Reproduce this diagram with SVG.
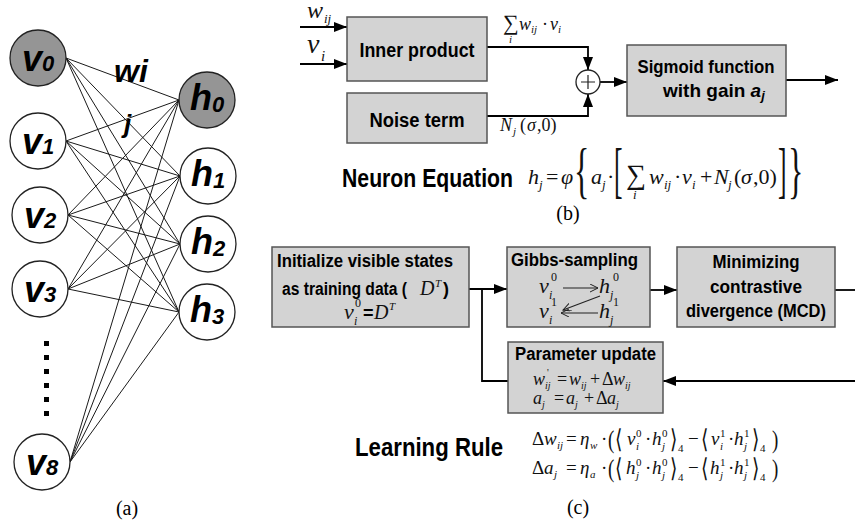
<svg xmlns="http://www.w3.org/2000/svg" width="855" height="527" viewBox="0 0 855 527">
<style>
.box{fill:#d3d3d3;stroke:#555;stroke-width:1.5}
.node{fill:#fff;stroke:#222;stroke-width:1.3}
.shaded{fill:#959595}
.edge{stroke:#1a1a1a;stroke-width:1;fill:none}
.conn{stroke:#000;stroke-width:1.8;fill:none}
.thin{stroke:#222;stroke-width:1.1;fill:none}
.b{font-family:"Liberation Sans",Arial,sans-serif;font-weight:bold;fill:#000}
.bi{font-family:"Liberation Sans",Arial,sans-serif;font-weight:bold;font-style:italic;fill:#000}
.m{font-family:"Liberation Serif","DejaVu Serif",serif;font-style:italic;fill:#111}
.r{font-family:"Liberation Serif","DejaVu Serif",serif;font-style:normal;fill:#111}
.cap{font-family:"Liberation Serif","Times New Roman",serif;font-size:20px;fill:#000}
</style>
<defs>
<marker id="ah" markerUnits="userSpaceOnUse" markerWidth="14" markerHeight="10" refX="13" refY="5" orient="auto">
<path d="M0,0 L13,5 L0,10 Z" fill="#000"/>
</marker>
<marker id="oh" markerUnits="userSpaceOnUse" markerWidth="10" markerHeight="10" refX="8" refY="4" orient="auto">
<path d="M0,0 L8,4 L0,8" fill="none" stroke="#222" stroke-width="1"/>
</marker>
</defs>

<!-- (a) network edges -->
<g id="edges">
<path class="edge" d="M66,58 L179,100 M66,58 L180,176 M66,58 L180,244 M66,58 L179,312"/>
<path class="edge" d="M66,141 L179,100 M66,141 L180,176 M66,141 L180,244 M66,141 L179,312"/>
<path class="edge" d="M68,215 L179,100 M68,215 L180,176 M68,215 L180,244 M68,215 L179,312"/>
<path class="edge" d="M68,289 L179,100 M68,289 L180,176 M68,289 L180,244 M68,289 L179,312"/>
<path class="edge" d="M70,462 L179,100 M70,462 L180,176 M70,462 L180,244 M70,462 L179,312"/>
</g>

<g id="v0"><circle class="node shaded" cx="38" cy="58" r="28"/><text class="bi" x="22" y="71" font-size="36">v<tspan font-size="22">0</tspan></text></g>
<g id="v1"><circle class="node" cx="38" cy="141" r="28"/><text class="bi" x="22" y="154" font-size="36">v<tspan font-size="22">1</tspan></text></g>
<g id="v2"><circle class="node" cx="40" cy="215" r="28"/><text class="bi" x="24" y="228" font-size="36">v<tspan font-size="22">2</tspan></text></g>
<g id="v3"><circle class="node" cx="40" cy="289" r="28"/><text class="bi" x="24" y="302" font-size="36">v<tspan font-size="22">3</tspan></text></g>
<g id="v8"><circle class="node" cx="42" cy="462" r="28"/><text class="bi" x="26" y="475" font-size="36">v<tspan font-size="22">8</tspan></text></g>
<g id="h0"><circle class="node shaded" cx="207" cy="100" r="28"/><text class="bi" x="190" y="110" font-size="36">h<tspan font-size="22" dy="2">0</tspan></text></g>
<g id="h1"><circle class="node" cx="208" cy="176" r="28"/><text class="bi" x="191" y="186" font-size="36">h<tspan font-size="22" dy="2">1</tspan></text></g>
<g id="h2"><circle class="node" cx="208" cy="244" r="28"/><text class="bi" x="191" y="254" font-size="36">h<tspan font-size="22" dy="2">2</tspan></text></g>
<g id="h3"><circle class="node" cx="207" cy="312" r="28"/><text class="bi" x="190" y="322" font-size="36">h<tspan font-size="22" dy="2">3</tspan></text></g>

<g id="wij-label">
<text class="bi" x="114" y="82" font-size="32">wi</text>
<text class="bi" x="124" y="133" font-size="26">j</text>
</g>
<g id="dots" fill="#000">
<rect x="44" y="341" width="5" height="5"/><rect x="44" y="355" width="5" height="5"/><rect x="44" y="369" width="5" height="5"/>
<rect x="44" y="383" width="5" height="5"/><rect x="44" y="397" width="5" height="5"/><rect x="44" y="411" width="5" height="5"/>
</g>
<text class="cap" x="127" y="515" text-anchor="middle">(a)</text>

<!-- (b) -->
<g id="connectors-b">
<path class="conn" d="M300,27 L347,27" marker-end="url(#ah)"/>
<path class="conn" d="M300,64 L347,64" marker-end="url(#ah)"/>
<path class="conn" d="M487,47 L588,47 L588,70" marker-end="url(#ah)"/>
<path class="conn" d="M487,116 L588,116 L588,94" marker-end="url(#ah)"/>
<path class="conn" d="M600,82 L627,82" marker-end="url(#ah)"/>
<path class="conn" d="M786,80 L838,80" marker-end="url(#ah)"/>
</g>
<g id="in-labels">
<text class="m" x="307" y="18" font-size="24">w</text><text class="m" x="324" y="23" font-size="13">ij</text>
<text class="m" x="307" y="53" font-size="28">v</text><text class="m" x="321" y="61" font-size="15">i</text>
</g>
<g id="inner-product"><rect class="box" x="347" y="17" width="140" height="64"/><text class="b" x="417" y="57" font-size="20" text-anchor="middle" textLength="115" lengthAdjust="spacingAndGlyphs">Inner product</text></g>
<g id="noise-term"><rect class="box" x="347" y="93" width="140" height="50"/><text class="b" x="417" y="127" font-size="20" text-anchor="middle" textLength="95" lengthAdjust="spacingAndGlyphs">Noise term</text></g>
<g id="sum-node"><circle cx="588" cy="82" r="12" fill="#fff" stroke="#222" stroke-width="1.3"/><path d="M581,82 H595 M588,75 V89" stroke="#222" stroke-width="1.2"/></g>
<g id="sigmoid"><rect class="box" x="627" y="45" width="159" height="71"/>
<text class="b" x="706" y="73" font-size="19" text-anchor="middle" textLength="137" lengthAdjust="spacingAndGlyphs">Sigmoid function</text>
<text class="b" x="663" y="97" font-size="19">with gain <tspan class="bi">a</tspan><tspan class="bi" font-size="13" dy="3">j</tspan></text></g>
<g id="sum-label">
<text class="r" x="503" y="30" font-size="22">∑</text>
<text class="m" x="509" y="43" font-size="11">i</text>
<text class="m" x="519" y="30" font-size="18">w</text><text class="m" x="531" y="33" font-size="11">ij</text>
<text class="r" x="542" y="30" font-size="18">·</text>
<text class="m" x="550" y="30" font-size="18">v</text><text class="m" x="558" y="33" font-size="11">i</text>
</g>
<g id="noise-label">
<text class="m" x="500" y="131" font-size="18">N</text><text class="m" x="513" y="135" font-size="11">j</text>
<text class="r" x="520" y="131" font-size="18">(</text><text class="m" x="527" y="131" font-size="18">σ</text><text class="r" x="537" y="131" font-size="18">,0)</text>
</g>

<g id="neuron-eq">
<text class="b" x="342" y="187" font-size="25" textLength="171" lengthAdjust="spacingAndGlyphs">Neuron Equation</text>
<text class="m" x="528" y="184" font-size="22">h</text><text class="m" x="539" y="189" font-size="13">j</text>
<text class="r" x="546" y="184" font-size="22">=</text>
<text class="m" x="561" y="184" font-size="22">φ</text>
<text class="r" font-size="32" transform="translate(574,191) scale(1,1.9)">{</text>
<text class="m" x="591" y="184" font-size="22">a</text><text class="m" x="602" y="189" font-size="13">j</text>
<text class="r" x="607" y="184" font-size="22">·</text>
<text class="r" font-size="32" transform="translate(614,191) scale(0.8,1.9)">[</text>
<text class="r" x="626" y="184" font-size="28">∑</text>
<text class="m" x="633" y="199" font-size="13">i</text>
<text class="m" x="649" y="184" font-size="22">w</text><text class="m" x="664" y="189" font-size="13">ij</text>
<text class="r" x="674" y="184" font-size="22">·</text>
<text class="m" x="682" y="184" font-size="22">v</text><text class="m" x="692" y="189" font-size="13">i</text>
<text class="r" x="700" y="184" font-size="22">+</text>
<text class="m" x="714" y="184" font-size="22">N</text><text class="m" x="728" y="189" font-size="13">j</text>
<text class="r" x="734" y="184" font-size="22">(</text><text class="m" x="741" y="184" font-size="22">σ</text><text class="r" x="753" y="184" font-size="22">,0)</text>
<text class="r" font-size="32" transform="translate(778,191) scale(0.8,1.9)">]</text>
<text class="r" font-size="32" transform="translate(788,191) scale(1,1.9)">}</text>
</g>
<text class="cap" x="568" y="220" text-anchor="middle">(b)</text>

<!-- (c) -->
<g id="connectors-c">
<path class="conn" d="M469,289 L507,289" marker-end="url(#ah)"/>
<path class="conn" d="M482,289 L482,381 L508,381"/>
<path class="conn" d="M650,290 L677,290" marker-end="url(#ah)"/>
<path class="conn" d="M835,290 L855,290"/>
<path class="conn" d="M855,381 L663,381" marker-end="url(#ah)"/>
</g>
<g id="init">
<rect class="box" x="272" y="247" width="197" height="80"/>
<text class="b" x="277" y="267" font-size="18" textLength="176" lengthAdjust="spacingAndGlyphs">Initialize visible states</text>
<text class="b" x="282" y="295" font-size="18" textLength="125" lengthAdjust="spacingAndGlyphs">as training data (</text>
<text class="m" x="420" y="295" font-size="20">D</text><text class="m" x="435" y="287" font-size="11">T</text>
<text class="b" x="443" y="295" font-size="18">)</text>
<text class="m" x="344" y="319" font-size="22">v</text><text class="m" x="354" y="325" font-size="12">i</text><text class="r" x="355" y="307" font-size="12">0</text>
<text class="b" x="363" y="319" font-size="18">=</text>
<text class="m" x="374" y="319" font-size="20">D</text><text class="m" x="389" y="310" font-size="11">T</text>
</g>
<g id="gibbs">
<rect class="box" x="507" y="247" width="143" height="80"/>
<text class="b" x="511" y="266" font-size="18" textLength="127" lengthAdjust="spacingAndGlyphs">Gibbs-sampling</text>
<text class="m" x="539" y="293" font-size="22">v</text><text class="m" x="549" y="299" font-size="12">i</text><text class="r" x="551" y="281" font-size="12">0</text>
<text class="m" x="599" y="293" font-size="22">h</text><text class="m" x="610" y="299" font-size="12">j</text><text class="r" x="613" y="281" font-size="12">0</text>
<text class="m" x="539" y="318" font-size="22">v</text><text class="m" x="549" y="324" font-size="12">i</text><text class="r" x="551" y="306" font-size="12">1</text>
<text class="m" x="599" y="318" font-size="22">h</text><text class="m" x="610" y="324" font-size="12">j</text><text class="r" x="613" y="306" font-size="12">1</text>
<path class="thin" d="M563,288 L598,288" marker-end="url(#oh)"/>
<path class="thin" d="M598,313 L561,313" marker-end="url(#oh)"/>
<path class="thin" d="M600,296 L563,310" marker-end="url(#oh)"/>
</g>
<g id="mcd">
<rect class="box" x="677" y="247" width="158" height="80"/>
<text class="b" x="756" y="268" font-size="18" text-anchor="middle" textLength="87" lengthAdjust="spacingAndGlyphs">Minimizing</text>
<text class="b" x="756" y="293" font-size="18" text-anchor="middle" textLength="92" lengthAdjust="spacingAndGlyphs">contrastive</text>
<text class="b" x="756" y="317" font-size="18" text-anchor="middle" textLength="140" lengthAdjust="spacingAndGlyphs">divergence (MCD)</text>
</g>
<g id="param">
<rect class="box" x="508" y="342" width="155" height="71"/>
<text class="b" x="515" y="360" font-size="18" textLength="141" lengthAdjust="spacingAndGlyphs">Parameter update</text>
<text class="m" x="533" y="385" font-size="18">w</text><text class="m" x="545" y="389" font-size="10">ij</text><text class="r" x="547" y="376" font-size="10">'</text>
<text class="r" x="557" y="385" font-size="18">=</text>
<text class="m" x="569" y="385" font-size="18">w</text><text class="m" x="581" y="389" font-size="10">ij</text>
<text class="r" x="590" y="385" font-size="18">+</text>
<text class="r" x="602" y="385" font-size="18">Δ</text>
<text class="m" x="613" y="385" font-size="18">w</text><text class="m" x="625" y="389" font-size="10">ij</text>
<text class="m" x="533" y="404" font-size="18">a</text><text class="m" x="542" y="408" font-size="10">j</text>
<text class="r" x="554" y="404" font-size="18">=</text>
<text class="m" x="566" y="404" font-size="18">a</text><text class="m" x="575" y="408" font-size="10">j</text>
<text class="r" x="584" y="404" font-size="18">+</text>
<text class="r" x="596" y="404" font-size="18">Δ</text>
<text class="m" x="607" y="404" font-size="18">a</text><text class="m" x="616" y="408" font-size="10">j</text>
</g>
<g id="learning-rule">
<text class="b" x="355" y="456" font-size="26" textLength="148" lengthAdjust="spacingAndGlyphs">Learning Rule</text>
<g font-size="19">
<text class="r" x="532" y="445">Δ</text><text class="m" x="544" y="445">w</text><text class="m" x="557" y="449" font-size="11">ij</text>
<text class="r" x="566" y="445">=</text>
<text class="m" x="580" y="445">η</text><text class="m" x="590" y="449" font-size="11">w</text>
<text class="r" x="601" y="445">·</text>
<text class="r" transform="translate(608,448) scale(1,1.35)">(</text>
<text class="r" transform="translate(615,448) scale(1,1.35)">⟨</text>
<text class="m" x="627" y="445">v</text><text class="r" x="636" y="437" font-size="11">0</text><text class="m" x="636" y="450" font-size="11">i</text>
<text class="r" x="645" y="445">·</text>
<text class="m" x="652" y="445">h</text><text class="r" x="662" y="437" font-size="11">0</text><text class="m" x="662" y="450" font-size="11">j</text>
<text class="r" transform="translate(670,448) scale(1,1.35)">⟩</text><text class="r" x="678" y="452" font-size="11">4</text>
<text class="r" x="688" y="445">−</text>
<text class="r" transform="translate(701,448) scale(1,1.35)">⟨</text>
<text class="m" x="711" y="445">v</text><text class="r" x="720" y="437" font-size="11">1</text><text class="m" x="720" y="450" font-size="11">i</text>
<text class="r" x="728" y="445">·</text>
<text class="m" x="734" y="445">h</text><text class="r" x="744" y="437" font-size="11">1</text><text class="m" x="744" y="450" font-size="11">j</text>
<text class="r" transform="translate(752,448) scale(1,1.35)">⟩</text><text class="r" x="760" y="452" font-size="11">4</text>
<text class="r" transform="translate(772,448) scale(1,1.35)">)</text>

<text class="r" x="532" y="474">Δ</text><text class="m" x="544" y="474">a</text><text class="m" x="554" y="478" font-size="11">j</text>
<text class="r" x="566" y="474">=</text>
<text class="m" x="580" y="474">η</text><text class="m" x="590" y="478" font-size="11">a</text>
<text class="r" x="601" y="474">·</text>
<text class="r" transform="translate(608,477) scale(1,1.35)">(</text>
<text class="r" transform="translate(615,477) scale(1,1.35)">⟨</text>
<text class="m" x="626" y="474">h</text><text class="r" x="636" y="466" font-size="11">0</text><text class="m" x="636" y="479" font-size="11">j</text>
<text class="r" x="645" y="474">·</text>
<text class="m" x="652" y="474">h</text><text class="r" x="662" y="466" font-size="11">0</text><text class="m" x="662" y="479" font-size="11">j</text>
<text class="r" transform="translate(670,477) scale(1,1.35)">⟩</text><text class="r" x="678" y="481" font-size="11">4</text>
<text class="r" x="688" y="474">−</text>
<text class="r" transform="translate(701,477) scale(1,1.35)">⟨</text>
<text class="m" x="710" y="474">h</text><text class="r" x="720" y="466" font-size="11">1</text><text class="m" x="720" y="479" font-size="11">j</text>
<text class="r" x="728" y="474">·</text>
<text class="m" x="734" y="474">h</text><text class="r" x="744" y="466" font-size="11">1</text><text class="m" x="744" y="479" font-size="11">j</text>
<text class="r" transform="translate(752,477) scale(1,1.35)">⟩</text><text class="r" x="760" y="481" font-size="11">4</text>
<text class="r" transform="translate(772,477) scale(1,1.35)">)</text>
</g>
</g>
<text class="cap" x="578" y="514" text-anchor="middle">(c)</text>
</svg>
